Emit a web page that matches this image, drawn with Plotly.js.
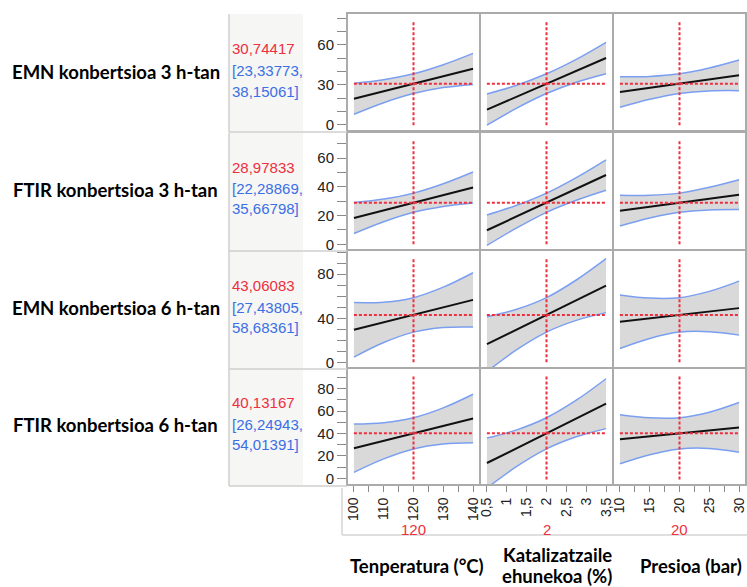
<!DOCTYPE html>
<html>
<head>
<meta charset="utf-8">
<script src="https://cdn.plot.ly/plotly-3.0.1.min.js"></script>
<style>html,body{margin:0;padding:0;background:#fff;}#chart{width:747px;height:587px;}</style>
</head>
<body>
<div id="chart"></div>
<script>
// ---------- DATA ----------
const responseNames = ['EMN konbertsioa 3 h-tan', 'FTIR konbertsioa 3 h-tan', 'EMN konbertsioa 6 h-tan', 'FTIR konbertsioa 6 h-tan'];
const predictedValues = [30.74417, 28.97833, 43.06083, 40.13167];
const ciLower = [23.33773, 22.28869, 27.43805, 26.24943];
const ciUpper = [38.15061, 35.66798, 58.68361, 54.01391];

const factorTitles = ['Tenperatura (°C)', 'Katalizatzaile<br>ehunekoa (%)', 'Presioa (bar)'];
const currentSettings = [120, 2, 20];

const tempX = [100, 110, 120, 130, 140];
const catX = [0.5, 1.25, 2, 2.75, 3.5];
const presX = [10, 15, 20, 25, 30];

// per response: [temperature, catalyst, pressure]
const emn3Pred = [[19.5, 25.1, 30.74, 36.4, 42.0], [11.3, 21.0, 30.74, 40.4, 50.0], [24.5, 27.6, 30.74, 33.9, 37.0]];
const emn3Hi   = [[31.0, 33.7, 38.15, 45.0, 53.5], [23.0, 29.6, 38.15, 49.0, 61.8], [36.0, 36.2, 38.15, 42.5, 48.5]];
const emn3Lo   = [[7.8, 16.5, 23.34, 27.8, 30.2], [-0.4, 12.4, 23.34, 31.8, 38.2], [13.0, 19.0, 23.34, 25.3, 25.5]];

const ftir3Pred = [[18.3, 23.6, 28.98, 34.3, 39.6], [9.8, 19.3, 28.98, 38.6, 48.3], [23.4, 26.2, 28.98, 31.8, 34.6]];
const ftir3Hi   = [[29.1, 31.5, 35.67, 42.2, 50.4], [20.4, 27.2, 35.67, 46.5, 58.9], [34.1, 34.1, 35.67, 39.7, 45.0]];
const ftir3Lo   = [[7.5, 15.7, 22.29, 26.4, 28.8], [-0.8, 11.4, 22.29, 30.7, 37.7], [12.7, 18.3, 22.29, 23.9, 24.2]];

const emn6Pred = [[29.5, 36.3, 43.06, 49.9, 56.7], [16.5, 29.8, 43.06, 56.4, 69.6], [36.9, 40.0, 43.06, 46.1, 49.2]];
const emn6Hi   = [[54.2, 54.6, 58.68, 68.2, 81.3], [41.4, 48.1, 58.68, 74.7, 94.1], [61.2, 58.3, 58.68, 64.4, 73.7]];
const emn6Lo   = [[4.8, 18.0, 27.44, 31.6, 32.1], [-8.4, 11.5, 27.44, 38.1, 45.1], [12.6, 21.7, 27.44, 27.8, 24.7]];

const ftir6Pred = [[26.9, 33.5, 40.13, 46.7, 53.3], [13.7, 26.9, 40.13, 53.3, 66.5], [34.8, 37.5, 40.13, 42.8, 45.4]];
const ftir6Hi   = [[48.4, 49.6, 54.01, 62.8, 74.9], [35.9, 43.2, 54.01, 69.6, 88.7], [56.6, 53.9, 54.01, 58.9, 67.5]];
const ftir6Lo   = [[5.4, 17.4, 26.25, 30.6, 31.7], [-8.5, 10.6, 26.25, 37.0, 44.3], [13.0, 21.1, 26.25, 26.7, 23.3]];

// ---------- BUILD ----------
const W = 747, H = 587;
const px = v => v / W;
const py = v => 1 - v / H;

const factorX = [tempX, catX, presX];
const preds = [emn3Pred, ftir3Pred, emn6Pred, ftir6Pred];
const his = [emn3Hi, ftir3Hi, emn6Hi, ftir6Hi];
const los = [emn3Lo, ftir3Lo, emn6Lo, ftir6Lo];

const colPx = [[348, 479], [481, 612], [614, 745]];
const rowPx = [[14, 130], [133, 249], [251, 367], [369, 484]];
const xRanges = [[98, 142], [0.35, 3.65], [9, 31]];
const yRanges = [[-4, 83], [-3.3, 77.6], [-4.2, 101], [-5, 97.4]];
const yDticks = [30, 20, 40, 20];
const xDticks = [10, 0.5, 5];
const xMinor = [5, null, 2.5];
const rowCenters = [72, 190, 308, 425];

const RED = '#ee2f3e', BLUE = '#3b6fe6', BAND = '#7b9ff0', FILL = '#d9d9d9';
const FONT = 'Liberation Sans, Arial, sans-serif';

const traces = [];
const layout = {
  width: W, height: H,
  margin: {l: 0, r: 0, t: 0, b: 0},
  paper_bgcolor: '#fff', plot_bgcolor: '#fff',
  showlegend: false,
  separators: ', ',
  font: {family: FONT, size: 15, color: '#222'},
  shapes: [], annotations: []
};

for (let r = 0; r < 4; r++) {
  for (let c = 0; c < 3; c++) {
    const i = r * 3 + c + 1;
    const xa = 'x' + (i === 1 ? '' : i), ya = 'y' + (i === 1 ? '' : i);
    const xk = 'xaxis' + (i === 1 ? '' : i), yk = 'yaxis' + (i === 1 ? '' : i);
    const xs = factorX[c];
    traces.push({x: xs, y: los[r][c], xaxis: xa, yaxis: ya, type: 'scatter', mode: 'lines',
      line: {color: BAND, width: 1.5, shape: 'spline'}, hoverinfo: 'skip'});
    traces.push({x: xs, y: his[r][c], xaxis: xa, yaxis: ya, type: 'scatter', mode: 'lines',
      fill: 'tonexty', fillcolor: FILL, line: {color: BAND, width: 1.5, shape: 'spline'}, hoverinfo: 'skip'});
    traces.push({x: xs, y: preds[r][c], xaxis: xa, yaxis: ya, type: 'scatter', mode: 'lines',
      line: {color: '#111', width: 2}, hoverinfo: 'skip'});

    const bottom = r === 3, left = c === 0;
    layout[xk] = {
      domain: [px(colPx[c][0]), px(colPx[c][1])], range: xRanges[c], anchor: ya,
      showgrid: false, zeroline: false, showline: true, mirror: true, linecolor: '#ababab', linewidth: 2,
      ticks: bottom ? 'outside' : '', ticklen: 6, tickcolor: '#8a8a8a', tickwidth: 1,
      showticklabels: bottom, tickangle: -90, dtick: xDticks[c], tick0: 0,
      tickfont: {family: FONT, size: 14, color: '#222'}
    };
    if (bottom && xMinor[c]) layout[xk].minor = {dtick: xMinor[c], ticks: 'outside', ticklen: 6, tickcolor: '#8a8a8a'};
    layout[yk] = {
      domain: [py(rowPx[r][1]), py(rowPx[r][0])], range: yRanges[r], anchor: xa,
      showgrid: false, zeroline: false, showline: true, mirror: true, linecolor: '#ababab', linewidth: 2,
      ticks: left ? 'outside' : '', ticklen: 9, tickcolor: '#8a8a8a', tickwidth: 1,
      showticklabels: left, dtick: yDticks[r], tick0: 0,
      tickfont: {family: FONT, size: 15, color: '#222'}
    };
    if (left) layout[yk].minor = {dtick: 10, ticks: 'outside', ticklen: 9, tickcolor: '#8a8a8a'};

    // reference lines at current settings / predicted values
    layout.shapes.push({type: 'line', xref: xa, yref: ya + ' domain', x0: currentSettings[c], x1: currentSettings[c],
      y0: 0.04, y1: 0.94, line: {color: RED, width: 2, dash: '3px,2px'}});
    layout.shapes.push({type: 'line', xref: xa + ' domain', yref: ya, x0: 0.045, x1: 0.955,
      y0: predictedValues[r], y1: predictedValues[r], line: {color: RED, width: 2, dash: '3px,2px'}});
  }

  // left value box
  layout.shapes.push({type: 'rect', xref: 'paper', yref: 'paper', layer: 'below',
    x0: px(229), x1: px(303), y0: py(rowPx[r][1] + 2), y1: py(rowPx[r][0]), fillcolor: '#f6f6f4', line: {width: 0}});
  layout.shapes.push({type: 'line', xref: 'paper', yref: 'paper', x0: px(229), x1: px(229),
    y0: py(rowPx[r][1] + 2), y1: py(rowPx[r][0]), line: {color: '#cfcfcf', width: 1.5}});
  layout.shapes.push({type: 'line', xref: 'paper', yref: 'paper', x0: px(229), x1: px(347),
    y0: py(rowPx[r][1] + 2), y1: py(rowPx[r][1] + 2), line: {color: '#cfcfcf', width: 1.5}});

  const fmt = v => String(v).replace('.', ',');
  const cy = rowCenters[r];
  layout.annotations.push({xref: 'paper', yref: 'paper', x: px(116), y: py(cy), xanchor: 'center', yanchor: 'middle',
    text: '<b>' + responseNames[r] + '</b>', showarrow: false, font: {family: 'Lato, sans-serif', size: 18.5, color: '#000'}});
  layout.annotations.push({xref: 'paper', yref: 'paper', x: px(230), y: py(cy - 23), xanchor: 'left', yanchor: 'middle',
    text: fmt(predictedValues[r]), showarrow: false, font: {family: FONT, size: 15, color: RED}});
  layout.annotations.push({xref: 'paper', yref: 'paper', x: px(230), y: py(cy - 1), xanchor: 'left', yanchor: 'middle',
    text: '[' + fmt(ciLower[r]) + ',', showarrow: false, font: {family: FONT, size: 15, color: BLUE}});
  layout.annotations.push({xref: 'paper', yref: 'paper', x: px(230), y: py(cy + 19), xanchor: 'left', yanchor: 'middle',
    text: fmt(ciUpper[r]) + ']', showarrow: false, font: {family: FONT, size: 15, color: BLUE}});
}

// bottom factor area
const titleX = [417, 557, 691];
for (let c = 0; c < 3; c++) {
  const xa = 'x' + (10 + c);
  layout.annotations.push({xref: xa, yref: 'paper', x: currentSettings[c], y: py(529), xanchor: 'center', yanchor: 'middle',
    text: String(currentSettings[c]), showarrow: false, font: {family: FONT, size: 15, color: RED}});
  const lines = factorTitles[c].split('<br>');
  const top = lines.length === 1 ? 566 : 555;
  lines.forEach((ln, k) => {
    layout.annotations.push({xref: 'paper', yref: 'paper', x: px(titleX[c]), y: py(top + k * 21), xanchor: 'center', yanchor: 'middle',
      text: '<b>' + ln + '</b>', showarrow: false, font: {family: 'Lato, sans-serif', size: 18.5, color: '#000'}});
  });
}
layout.shapes.push({type: 'line', xref: 'paper', yref: 'paper', x0: px(342), x1: px(342), y0: py(535), y1: py(488),
  line: {color: '#d4d4d4', width: 1.5}});
layout.shapes.push({type: 'line', xref: 'paper', yref: 'paper', x0: px(342), x1: px(747), y0: py(535), y1: py(535),
  line: {color: '#d4d4d4', width: 1.5}});

Plotly.newPlot('chart', traces, layout, {displayModeBar: false, staticPlot: true});
</script>
</body>
</html>
